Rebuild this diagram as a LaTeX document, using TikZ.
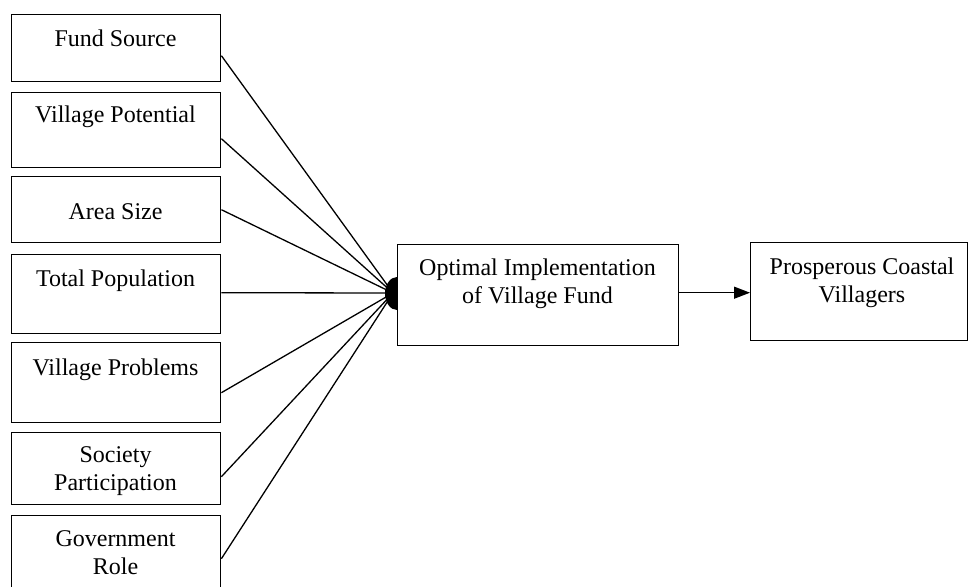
\documentclass[tikz,border=0pt]{standalone}
\usepackage{fontspec}
\setmainfont{Liberation Serif}
\usetikzlibrary{arrows.meta}
\begin{document}
\begin{tikzpicture}[x=1pt,y=-1pt,
  box/.style={draw,line width=1.4pt,inner sep=0pt,anchor=north west},
  lbl/.style={font=\fontsize{24}{28}\selectfont,align=center,inner sep=0pt},
  conn/.style={line width=1.3pt}]
\useasboundingbox (0,0) rectangle (968,586);
% left boxes
\node[box,minimum width=209pt,minimum height=67pt] (b1) at (11,14) {};
\node[box,minimum width=209pt,minimum height=75pt] (b2) at (11,92) {};
\node[box,minimum width=209pt,minimum height=66pt] (b3) at (11,176) {};
\node[box,minimum width=209pt,minimum height=79pt] (b4) at (11,254) {};
\node[box,minimum width=209pt,minimum height=80pt] (b5) at (11,342) {};
\node[box,minimum width=209pt,minimum height=72pt] (b6) at (11,432) {};
\node[box,minimum width=209pt,minimum height=85pt] (b7) at (11,515) {};
\node[lbl] (t1) at (115.5,38) {Fund Source};
\node[lbl] (t2) at (115.5,117) {Village Potential};
\node[lbl] (t3) at (115.5,212) {Area Size};
\node[lbl] (t4) at (115.5,281) {Total Population};
\node[lbl] (t5) at (115.5,370) {Village Problems};
\node[lbl] (t6) at (115.5,471) {Society\\Participation};
\node[lbl] (t7) at (115.5,553) {Government\\Role};
% middle and right boxes
\node[box,minimum width=281pt,minimum height=101pt] (m) at (397,244) {};
\node[lbl] (tm) at (537.5,284) {Optimal Implementation\\of Village Fund};
\node[box,minimum width=217pt,minimum height=98pt] (r) at (750,242) {};
\node[lbl] (tr) at (862,283) {Prosperous Coastal\\Villagers};
% hub
\coordinate (hub) at (393,293);
\draw[conn] ([yshift=-7.5pt]b1.east) -- (hub);
\draw[conn] ([yshift=-8.5pt]b2.east) -- (hub);
\draw[conn] (b3.east) -- (hub);
\draw[conn] ([yshift=1.5pt]b4.east) -- (hub);
\draw[conn] ([yshift=-10pt]b5.east) -- (hub);
\draw[conn] ([yshift=-8pt]b6.east) -- (hub);
\draw[conn] ([yshift=-0.5pt]b7.east) -- (hub);
\begin{scope}
\clip (378,270) rectangle (397,320);
\fill (397,293.5) ellipse [x radius=12, y radius=16.5];
\end{scope}
% arrow
\draw[conn,-{Triangle[length=16pt,width=12pt]}] ([yshift=2.5pt]m.east) -- ([yshift=2.5pt]m.east -| r.west);
\end{tikzpicture}
\end{document}
